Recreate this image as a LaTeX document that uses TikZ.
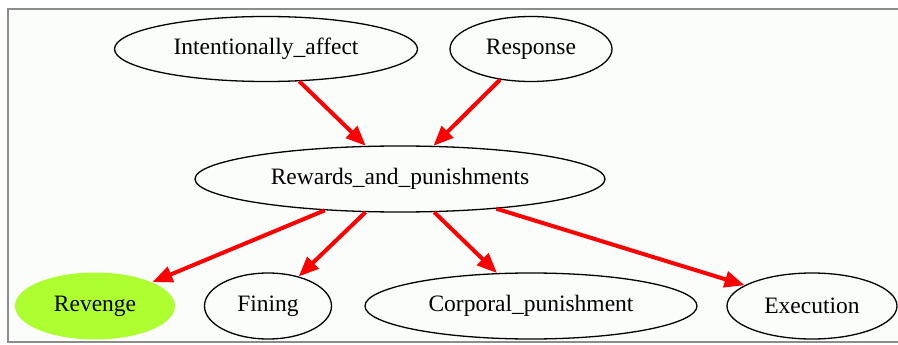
\documentclass[tikz,border=0pt]{standalone}
\usepackage{fontspec}
\setmainfont{Liberation Serif}
\usetikzlibrary{shapes.geometric,arrows.meta}
\definecolor{bgc}{HTML}{FBFDFB}
\definecolor{framec}{HTML}{8C8C8C}
\definecolor{revc}{HTML}{ADFF2F}
\tikzset{
  gnode/.style={ellipse, draw=black, line width=1.3pt, inner sep=0pt,
    font=\fontsize{23.5}{26}\selectfont},
  gedge/.style={draw=red, line width=4pt,
    -{Triangle[length=20pt,width=16pt]}, shorten >=0pt}
}
\begin{document}
\begin{tikzpicture}[x=1pt,y=-1pt]
\useasboundingbox (0,0) rectangle (898,345);
\fill[white] (0,0) rectangle (898,345);
\fill[bgc] (8,9) rectangle (898,342);
\draw[framec, line width=1.5pt] (898,9) -- (8,9) -- (8,342) -- (898,342);

\node[gnode, minimum width=303pt, minimum height=65pt] (ia) at (266,49) {Intentionally\_affect};
\node[gnode, minimum width=162pt, minimum height=65pt] (re) at (531,49) {Response};
\node[gnode, minimum width=410pt, minimum height=66pt] (rp) at (400,179) {Rewards\_and\_punishments};
\node[gnode, draw=none, fill=revc, minimum width=160pt, minimum height=67pt] (rv) at (95,306) {Revenge};
\node[gnode, minimum width=127pt, minimum height=66pt] (fi) at (268,306) {Fining};
\node[gnode, minimum width=332pt, minimum height=66pt] (cp) at (531,306) {Corporal\_punishment};
\node[gnode, minimum width=170pt, minimum height=66pt] (ex) at (812,306) {Execution};

\draw[gedge] (ia) -- (rp);
\draw[gedge] (re) -- (rp);
\draw[gedge] (rp) -- (rv);
\draw[gedge] (rp) -- (fi);
\draw[gedge] (rp) -- (cp);
\draw[gedge] (rp) -- (ex);
\end{tikzpicture}
\end{document}
